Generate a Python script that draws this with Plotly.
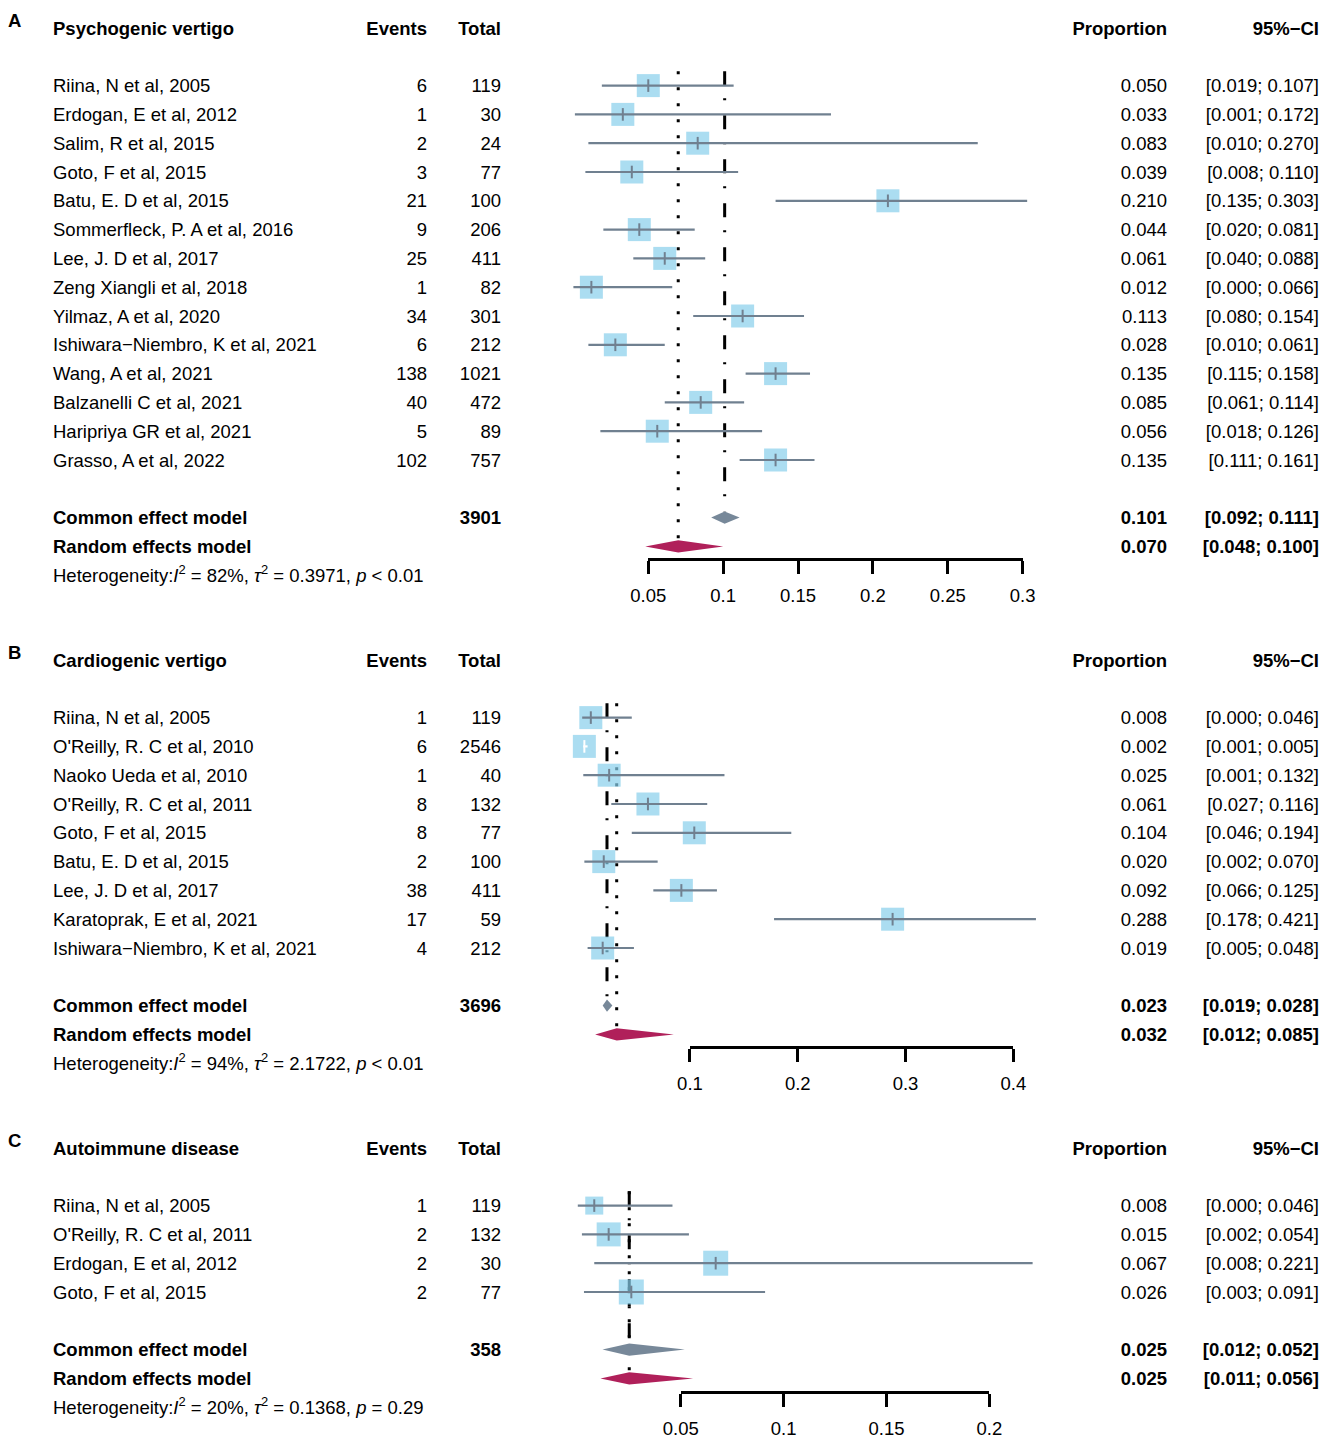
import plotly.graph_objects as go

W, H = 1325, 1440
ROW = 28.8
FONT = "Liberation Sans, Arial, sans-serif"
FS = 18.5
TXT_DY = 0.07  # text baseline nudge, in rows

SQUARE = "#87CEEB"
CI_LINE = "#708090"
COMMON = "#778899"
RANDOM = "#B0205A"
MINUS = "\u2212"

# ---- A: psychogenic vertigo
a_study = ["Riina, N et al, 2005", "Erdogan, E et al, 2012", "Salim, R et al, 2015",
           "Goto, F et al, 2015", "Batu, E. D et al, 2015", "Sommerfleck, P. A et al, 2016",
           "Lee, J. D et al, 2017", "Zeng Xiangli et al, 2018", "Yilmaz, A et al, 2020",
           "Ishiwara" + MINUS + "Niembro, K et al, 2021", "Wang, A et al, 2021",
           "Balzanelli C et al, 2021", "Haripriya GR et al, 2021", "Grasso, A et al, 2022"]
a_events = [6, 1, 2, 3, 21, 9, 25, 1, 34, 6, 138, 40, 5, 102]
a_total = [119, 30, 24, 77, 100, 206, 411, 82, 301, 212, 1021, 472, 89, 757]
a_prop = [0.050, 0.033, 0.083, 0.039, 0.210, 0.044, 0.061, 0.012, 0.113, 0.028, 0.135, 0.085, 0.056, 0.135]
a_lo = [0.019, 0.001, 0.010, 0.008, 0.135, 0.020, 0.040, 0.000, 0.080, 0.010, 0.115, 0.061, 0.018, 0.111]
a_hi = [0.107, 0.172, 0.270, 0.110, 0.303, 0.081, 0.088, 0.066, 0.154, 0.061, 0.158, 0.114, 0.126, 0.161]
a_common = [0.101, 0.092, 0.111]
a_random = [0.070, 0.048, 0.100]
a_n = 3901
a_het = ["82%", "0.3971", "&lt; 0.01"]
a_ticks = [0.05, 0.1, 0.15, 0.2, 0.25, 0.3]

# ---- B: cardiogenic vertigo
b_study = ["Riina, N et al, 2005", "O'Reilly, R. C et al, 2010", "Naoko Ueda et al, 2010",
           "O'Reilly, R. C et al, 2011", "Goto, F et al, 2015", "Batu, E. D et al, 2015",
           "Lee, J. D et al, 2017", "Karatoprak, E et al, 2021",
           "Ishiwara" + MINUS + "Niembro, K et al, 2021"]
b_events = [1, 6, 1, 8, 8, 2, 38, 17, 4]
b_total = [119, 2546, 40, 132, 77, 100, 411, 59, 212]
b_prop = [0.008, 0.002, 0.025, 0.061, 0.104, 0.020, 0.092, 0.288, 0.019]
b_lo = [0.000, 0.001, 0.001, 0.027, 0.046, 0.002, 0.066, 0.178, 0.005]
b_hi = [0.046, 0.005, 0.132, 0.116, 0.194, 0.070, 0.125, 0.421, 0.048]
b_common = [0.023, 0.019, 0.028]
b_random = [0.032, 0.012, 0.085]
b_n = 3696
b_het = ["94%", "2.1722", "&lt; 0.01"]
b_ticks = [0.1, 0.2, 0.3, 0.4]

# ---- C: autoimmune disease
c_study = ["Riina, N et al, 2005", "O'Reilly, R. C et al, 2011",
           "Erdogan, E et al, 2012", "Goto, F et al, 2015"]
c_events = [1, 2, 2, 2]
c_total = [119, 132, 30, 77]
c_prop = [0.008, 0.015, 0.067, 0.026]
c_lo = [0.000, 0.002, 0.008, 0.003]
c_hi = [0.046, 0.054, 0.221, 0.091]
c_common = [0.025, 0.012, 0.052]
c_random = [0.025, 0.011, 0.056]
c_n = 358
c_het = ["20%", "0.1368", "= 0.29"]
c_ticks = [0.05, 0.1, 0.15, 0.2]

fig = go.Figure()
layout_axes = {}


def ax_name(kind, i):
    return kind + ("" if i == 1 else str(i))


def text_col(x, rows, texts, pos, xa, ya):
    fig.add_trace(go.Scatter(x=[x] * len(rows), y=[r + TXT_DY for r in rows], text=texts,
                             mode="text", textposition=pos,
                             textfont=dict(size=FS, color="black", family=FONT),
                             xaxis=xa, yaxis=ya, hoverinfo="skip", showlegend=False,
                             cliponaxis=False))


def add_panel(n, letter, title, study, events, total, prop, lo, hi, common, random,
              n_all, het, ticks, top, zero, ppu, axis_y, sq):
    xt, xf, xs = 3 * n - 2, 3 * n - 1, 3 * n
    ya = ax_name("y", n)
    k = len(study)
    rows = list(range(2, 2 + k))
    r_com, r_ran, r_het = k + 3, k + 4, k + 5

    # text columns
    het_txt = ("Heterogeneity:<i>I</i><sup>2</sup> = %s, <i>\u03c4</i><sup>2</sup> = %s, <i>p</i> %s"
               % tuple(het))
    text_col(8, [-0.28], ["<b>%s</b>" % letter], "middle right", ax_name("x", xt), ya)
    text_col(53, [0] + rows + [r_com, r_ran, r_het],
             ["<b>%s</b>" % title] + study
             + ["<b>Common effect model</b>", "<b>Random effects model</b>", het_txt],
             "middle right", ax_name("x", xt), ya)
    text_col(427, [0] + rows, ["<b>Events</b>"] + [str(e) for e in events],
             "middle left", ax_name("x", xt), ya)
    text_col(501, [0] + rows + [r_com],
             ["<b>Total</b>"] + [str(t) for t in total] + ["<b>%d</b>" % n_all],
             "middle left", ax_name("x", xt), ya)
    text_col(1167, [0] + rows + [r_com, r_ran],
             ["<b>Proportion</b>"] + ["%.3f" % p for p in prop]
             + ["<b>%.3f</b>" % common[0], "<b>%.3f</b>" % random[0]],
             "middle left", ax_name("x", xt), ya)
    text_col(1319, [0] + rows + [r_com, r_ran],
             ["<b>95%" + MINUS + "CI</b>"] + ["[%.3f; %.3f]" % (l, h) for l, h in zip(lo, hi)]
             + ["<b>[%.3f; %.3f]</b>" % tuple(common[1:]), "<b>[%.3f; %.3f]</b>" % tuple(random[1:])],
             "middle left", ax_name("x", xt), ya)

    xa = ax_name("x", xf)
    # reference lines
    fig.add_trace(go.Scatter(x=[common[0]] * 2, y=[1.5, r_com - 0.21], mode="lines",
                             line=dict(color="black", width=3, dash="14px,13px,2px,15px"),
                             xaxis=xa, yaxis=ya, hoverinfo="skip", showlegend=False))
    fig.add_trace(go.Scatter(x=[random[0]] * 2, y=[1.5, r_ran - 0.21], mode="lines",
                             line=dict(color="black", width=3, dash="3px,13px"),
                             xaxis=xa, yaxis=ya, hoverinfo="skip", showlegend=False))
    # squares
    fig.add_trace(go.Scatter(x=prop, y=rows, mode="markers",
                             marker=dict(symbol="square", size=sq, color=SQUARE, line_width=0),
                             xaxis=xa, yaxis=ya, hoverinfo="skip", showlegend=False))
    # confidence intervals (white when hidden inside the square)
    for col, inside in ((CI_LINE, False), ("white", True)):
        xs_, ys_, px, py = [], [], [], []
        for r, p, l, h, s in zip(rows, prop, lo, hi, sq):
            if ((h - l) * ppu < s) != inside:
                continue
            xs_ += [l, h, None]
            ys_ += [r, r, None]
            px.append(p)
            py.append(r)
        if px:
            fig.add_trace(go.Scatter(x=xs_, y=ys_, mode="lines", line=dict(color=col, width=2.2),
                                     xaxis=xa, yaxis=ya, hoverinfo="skip", showlegend=False))
            fig.add_trace(go.Scatter(x=px, y=py, mode="markers",
                                     marker=dict(symbol="line-ns", size=9,
                                                 line=dict(color=col, width=2)),
                                     xaxis=xa, yaxis=ya, hoverinfo="skip", showlegend=False))
    # summary diamonds
    for est, r, col in ((common, r_com, COMMON), (random, r_ran, RANDOM)):
        fig.add_trace(go.Scatter(x=[est[1], est[0], est[2], est[0], est[1]],
                                 y=[r, r - 0.21, r, r + 0.21, r], mode="lines", fill="toself",
                                 fillcolor=col, line=dict(width=0, color=col),
                                 xaxis=xa, yaxis=ya, hoverinfo="skip", showlegend=False))
    # scale axis holder
    fig.add_trace(go.Scatter(x=[ticks[0], ticks[-1]], y=[r_ran, r_ran], mode="markers",
                             marker=dict(opacity=0), xaxis=ax_name("x", xs), yaxis=ya,
                             hoverinfo="skip", showlegend=False))

    ykey = ax_name("yaxis", n)
    layout_axes[ykey] = dict(domain=[0, 1], range=[(H - top) / ROW, -top / ROW],
                             visible=False, anchor=ax_name("x", xt))
    layout_axes[ax_name("xaxis", xt)] = dict(domain=[0, 1], range=[0, W], visible=False, anchor=ya)
    layout_axes[ax_name("xaxis", xf)] = dict(domain=[0, 1], range=[-zero / ppu, (W - zero) / ppu],
                                              visible=False, anchor=ya)
    eps = 1e-6
    layout_axes[ax_name("xaxis", xs)] = dict(
        domain=[(zero + ticks[0] * ppu) / W, (zero + ticks[-1] * ppu) / W],
        range=[ticks[0] - eps, ticks[-1] + eps], anchor="free", position=1 - axis_y / H,
        showline=True, linecolor="black", linewidth=2.5, showgrid=False, zeroline=False,
        ticks="outside", ticklen=13, tickwidth=2.5, tickcolor="black", automargin=False,
        tickmode="array", tickvals=ticks, ticktext=[str(t) for t in ticks],
        tickfont=dict(size=FS, color="black", family=FONT), ticklabelstandoff=6)


add_panel(1, "A", "Psychogenic vertigo", a_study, a_events, a_total, a_prop, a_lo, a_hi,
          a_common, a_random, a_n, a_het, a_ticks, 28, 573.4, 1497.6, 559, [23] * len(a_study))
add_panel(2, "B", "Cardiogenic vertigo", b_study, b_events, b_total, b_prop, b_lo, b_hi,
          b_common, b_random, b_n, b_het, b_ticks, 660, 582.2, 1077.8, 1047, [23] * len(b_study))
add_panel(3, "C", "Autoimmune disease", c_study, c_events, c_total, c_prop, c_lo, c_hi,
          c_common, c_random, c_n, c_het, c_ticks, 1148, 577.8, 2058, 1392, [18, 24, 25, 25])

fig.update_layout(width=W, height=H, margin=dict(l=0, r=0, t=0, b=0, autoexpand=False),
                  paper_bgcolor="white", plot_bgcolor="rgba(0,0,0,0)",
                  font=dict(family=FONT, size=FS, color="black"), showlegend=False,
                  **layout_axes)

fig.write_html("out.html", config={"displayModeBar": False},
               post_script="document.body.style.margin='0';")
